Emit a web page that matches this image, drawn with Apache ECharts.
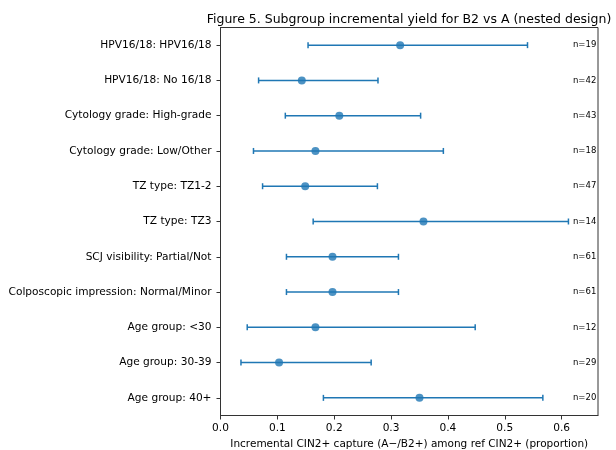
<!DOCTYPE html>
<html><head><meta charset="utf-8">
<script src="https://cdn.jsdelivr.net/npm/echarts@6/dist/echarts.min.js"></script>
<style>html,body{margin:0;padding:0;background:#fff}#c{width:616px;height:450px}</style>
</head><body><div id="c"></div>
<script>
var categories = ["HPV16/18: HPV16/18","HPV16/18: No 16/18","Cytology grade: High-grade","Cytology grade: Low/Other","TZ type: TZ1-2","TZ type: TZ3","SCJ visibility: Partial/Not","Colposcopic impression: Normal/Minor","Age group: <30","Age group: 30-39","Age group: 40+"];
var estimates = [0.316,0.143,0.209,0.167,0.149,0.357,0.197,0.197,0.167,0.103,0.350];
var lowerCI = [0.154,0.067,0.114,0.058,0.074,0.163,0.116,0.116,0.047,0.036,0.181];
var upperCI = [0.540,0.277,0.352,0.392,0.276,0.612,0.313,0.313,0.448,0.265,0.567];
var counts = [19,42,43,18,47,14,61,61,12,29,20];
var xTicks = [0.0,0.1,0.2,0.3,0.4,0.5,0.6];
var labelX = 0.62;

var blue = '#1f77b4';
var font = 'DejaVu Sans';
var errData = categories.map(function(c,i){return [lowerCI[i], upperCI[i], c];});
var ptData = categories.map(function(c,i){return [estimates[i], c];});
var nData = categories.map(function(c,i){return [labelX, c, 'n=' + counts[i]];});

var chart = echarts.init(document.getElementById('c'), null, {renderer:'canvas'});
chart.setOption({
  animation:false,
  backgroundColor:'#fff',
  title:{text:'Figure 5. Subgroup incremental yield for B2 vs A (nested design)',
    left:404, top:8, textAlign:'center',
    textStyle:{fontFamily:font,fontSize:12.5,fontWeight:'normal',color:'#000'}},
  grid:{left:220.5,right:18,top:27.5,bottom:34.5,outerBoundsMode:'none',containLabel:false,show:true,borderColor:'#333',borderWidth:1,backgroundColor:'transparent'},
  xAxis:{type:'value',min:0,max:0.664,interval:0.1,
    name:'Incremental CIN2+ capture (A\u2212/B2+) among ref CIN2+ (proportion)',
    nameLocation:'middle',nameGap:22,
    nameTextStyle:{fontFamily:font,fontSize:10.5,color:'#000'},
    axisLine:{show:true,lineStyle:{color:'#333'}},
    axisTick:{show:true,length:4,lineStyle:{color:'#333'}},
    axisLabel:{fontFamily:font,fontSize:10.6,color:'#000',margin:7,
      formatter:function(v){var r=Math.round(v*10)/10; return xTicks.indexOf(r)>=0 && Math.abs(v-r)<1e-9 ? r.toFixed(1) : '';},
      showMaxLabel:false},
    splitLine:{show:false}},
  yAxis:{type:'category',data:categories,inverse:true,
    axisLine:{show:true,lineStyle:{color:'#333'}},
    axisTick:{show:true,length:4,alignWithLabel:true,lineStyle:{color:'#333'}},
    axisLabel:{fontFamily:font,fontSize:10.6,color:'#000',margin:9},
    splitLine:{show:false}},
  series:[
    {type:'custom',data:errData,encode:{x:[0,1],y:2},z:2,
      renderItem:function(params,api){
        var a=api.coord([api.value(0),api.value(2)]);
        var b=api.coord([api.value(1),api.value(2)]);
        var h=3;
        var st={stroke:blue,lineWidth:1.5};
        return {type:'group',children:[
          {type:'line',shape:{x1:a[0],y1:a[1],x2:b[0],y2:b[1]},style:st},
          {type:'line',shape:{x1:a[0],y1:a[1]-h,x2:a[0],y2:a[1]+h},style:st},
          {type:'line',shape:{x1:b[0],y1:b[1]-h,x2:b[0],y2:b[1]+h},style:st}
        ]};
      }},
    {type:'scatter',data:ptData,symbol:'circle',symbolSize:8,itemStyle:{color:blue},z:3},
    {type:'custom',data:nData,encode:{x:0,y:1},z:4,
      renderItem:function(params,api){
        var p=api.coord([api.value(0),api.value(1)]);
        return {type:'text',x:p[0],y:p[1],style:{text:nData[params.dataIndex][2],fontFamily:font,fontSize:8.5,fill:'#000',align:'left',verticalAlign:'middle'}};
      }}
  ]
});
</script></body></html>
